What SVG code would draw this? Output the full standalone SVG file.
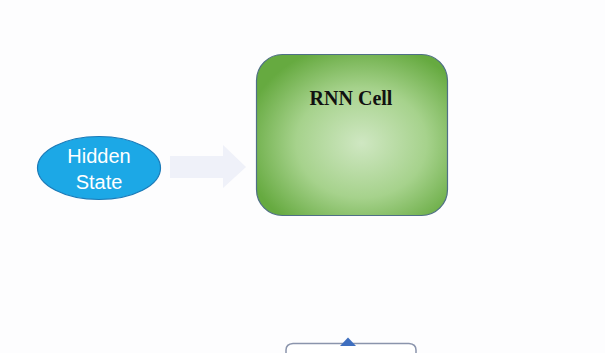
<svg xmlns="http://www.w3.org/2000/svg" width="605" height="353" viewBox="0 0 605 353">
<defs>
<radialGradient id="g" cx="0.55" cy="0.55" r="0.62">
<stop offset="0" stop-color="#cfe7c2"/>
<stop offset="0.55" stop-color="#a6d28c"/>
<stop offset="1" stop-color="#66aa40"/>
</radialGradient>
<style>
.lbl{font-family:"Liberation Sans",Arial,sans-serif;font-size:20px;fill:#ffffff;text-anchor:middle}
.title{font-family:"Liberation Serif","Times New Roman",serif;font-size:20px;font-weight:bold;fill:#111111;text-anchor:middle}
</style>
</defs>
<rect width="605" height="353" fill="#fdfdfe"/>
<g id="connectors">
<path d="M170,156 H223 V145 L246,167 L223,188 V178 H170 Z" fill="#eff1f9"/>
</g>
<g id="hidden-state">
<ellipse cx="99" cy="168" rx="61.5" ry="31.5" fill="#1ca8e6" stroke="#1a7ab8" stroke-width="1.2"/>
<text class="lbl" x="99" y="163">Hidden</text>
<text class="lbl" x="99" y="189">State</text>
</g>
<g id="rnn-cell">
<rect x="256.5" y="54.5" width="191" height="161" rx="26" fill="url(#g)" stroke="#4f6f86" stroke-width="1.2"/>
<text class="title" x="351" y="105">RNN Cell</text>
</g>
<g id="bottom-box">
<path d="M286,353 V350 Q286,344 293,343.5 H409 Q416,344 416,350 V353" fill="#ffffff" stroke="#8a94ac" stroke-width="1.5"/>
<path d="M340,346 L348,337.5 L356,346 Z" fill="#3f6fbf"/>
</g>
</svg>
